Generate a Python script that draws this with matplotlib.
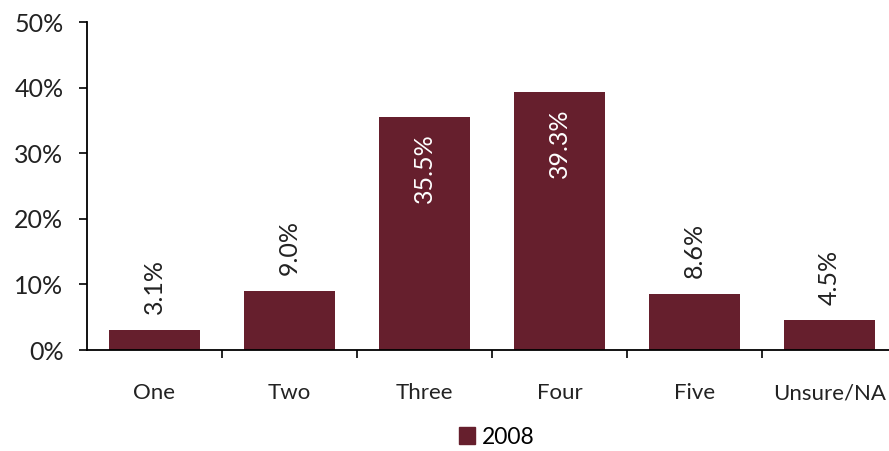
import matplotlib.pyplot as plt
from matplotlib.patches import Patch

plt.rcParams['font.family'] = ['Lato', 'DejaVu Sans']

categories = ['One', 'Two', 'Three', 'Four', 'Five', 'Unsure/NA']
values = [3.1, 9.0, 35.5, 39.3, 8.6, 4.5]
series_name = '2008'
bar_color = '#661f2d'

fig = plt.figure(figsize=(8.89, 4.51), dpi=100)
# right edge of the plot area runs slightly past the image edge
ax = fig.add_axes([87 / 889, 1 - 350 / 451, 810 / 889, 328 / 451])

x = range(len(categories))
bars = ax.bar(x, values, width=0.67, color=bar_color)

for xi, v in zip(x, values):
    if v > 20:
        ax.text(xi, v - 2.5, f'{v:.1f}%', rotation=90, ha='center', va='top',
                color='white', fontsize=18)
    else:
        ax.text(xi, v + 2.4, f'{v:.1f}%', rotation=90, ha='center', va='bottom',
                color='#222222', fontsize=18)

ax.set_xlim(-0.5, len(categories) - 0.5)
ax.set_ylim(0, 50)
ax.set_yticks(range(0, 51, 10))
ax.set_yticklabels([f'{t}%' for t in range(0, 51, 10)], fontsize=18, color='#222222')

ax.set_xticks(x)
ax.set_xticklabels(categories, fontsize=16, color='#222222')
ax.tick_params(axis='x', length=0, pad=24)
ax.set_xticks([i + 0.5 for i in x], minor=True)
ax.tick_params(axis='x', which='minor', length=6, direction='out', width=1.2)
ax.tick_params(axis='y', length=6, direction='out', width=1.2, pad=11)

for side in ['top', 'right']:
    ax.spines[side].set_visible(False)
for side in ['left', 'bottom']:
    ax.spines[side].set_linestyle((0, (2, 1)))
    ax.spines[side].set_linewidth(1.3)

fig.legend(handles=[Patch(color=bar_color, label=series_name)], loc='center',
           bbox_to_anchor=(497 / 889, 1 - 437 / 451), frameon=False, fontsize=16.5,
           handlelength=0.7, handleheight=0.7, handletextpad=0.3)

fig.savefig('out.png', dpi=100)
